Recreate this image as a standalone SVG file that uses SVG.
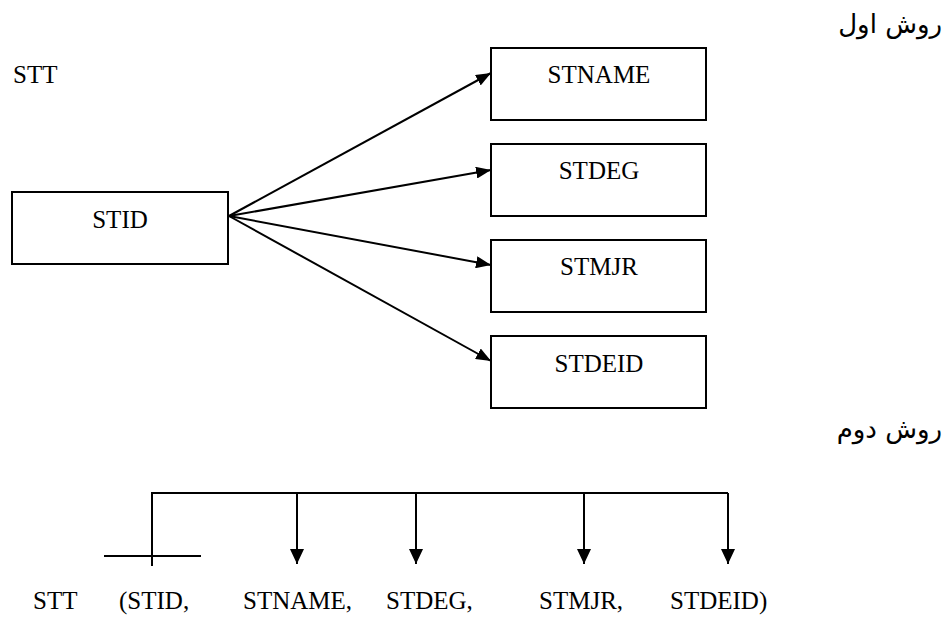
<svg xmlns="http://www.w3.org/2000/svg" width="947" height="617" viewBox="0 0 947 617">
<style>
.box{fill:#fff;stroke:#000;stroke-width:2}
.t{font-family:"Liberation Serif","DejaVu Serif",serif;font-size:25px;fill:#000}
.ar{font-family:"DejaVu Sans",sans-serif;font-size:26px;fill:#000}
.ln{stroke:#000;stroke-width:2;fill:none}
</style>
<defs>
<marker id="ah" markerWidth="15" markerHeight="12" refX="15" refY="6" orient="auto" markerUnits="userSpaceOnUse">
<path d="M0,0 L15,6 L0,12 Z" fill="#000"/>
</marker>
<marker id="ahv" markerWidth="15" markerHeight="14" refX="15" refY="7" orient="auto" markerUnits="userSpaceOnUse">
<path d="M0,0 L15,7 L0,14 Z" fill="#000"/>
</marker>
</defs>
<text class="ar" x="942" y="33" text-anchor="end">روش اول</text>
<text class="t" x="13" y="83">STT</text>
<g id="stid"><rect class="box" x="12" y="192" width="216" height="72"/><text class="t" x="120" y="228" text-anchor="middle">STID</text></g>
<g id="stname"><rect class="box" x="491" y="48" width="215" height="72"/><text class="t" x="599" y="83" text-anchor="middle">STNAME</text></g>
<g id="stdeg"><rect class="box" x="491" y="144" width="215" height="72"/><text class="t" x="599" y="179" text-anchor="middle">STDEG</text></g>
<g id="stmjr"><rect class="box" x="491" y="240" width="215" height="72"/><text class="t" x="599" y="275" text-anchor="middle">STMJR</text></g>
<g id="stdeid"><rect class="box" x="491" y="336" width="215" height="72"/><text class="t" x="599" y="372" text-anchor="middle">STDEID</text></g>
<g id="connectors">
<line class="ln" x1="229" y1="216" x2="491" y2="73" marker-end="url(#ah)"/>
<line class="ln" x1="229" y1="216" x2="491" y2="170" marker-end="url(#ah)"/>
<line class="ln" x1="229" y1="216" x2="491" y2="265" marker-end="url(#ah)"/>
<line class="ln" x1="229" y1="216" x2="491" y2="361" marker-end="url(#ah)"/>
<polyline class="ln" points="152,566 152,493 728,493"/>
<line class="ln" x1="104" y1="556" x2="201" y2="556"/>
<line class="ln" x1="297" y1="493" x2="297" y2="564" marker-end="url(#ahv)"/>
<line class="ln" x1="416" y1="493" x2="416" y2="564" marker-end="url(#ahv)"/>
<line class="ln" x1="584" y1="493" x2="584" y2="564" marker-end="url(#ahv)"/>
<line class="ln" x1="728" y1="493" x2="728" y2="564" marker-end="url(#ahv)"/>
</g>
<text class="ar" x="942" y="438" text-anchor="end">روش دوم</text>
<text class="t" x="33" y="609">STT</text>
<text class="t" x="119" y="609">(STID,</text>
<text class="t" x="243" y="609">STNAME,</text>
<text class="t" x="386" y="609">STDEG,</text>
<text class="t" x="539" y="609">STMJR,</text>
<text class="t" x="670" y="609">STDEID)</text>
</svg>
